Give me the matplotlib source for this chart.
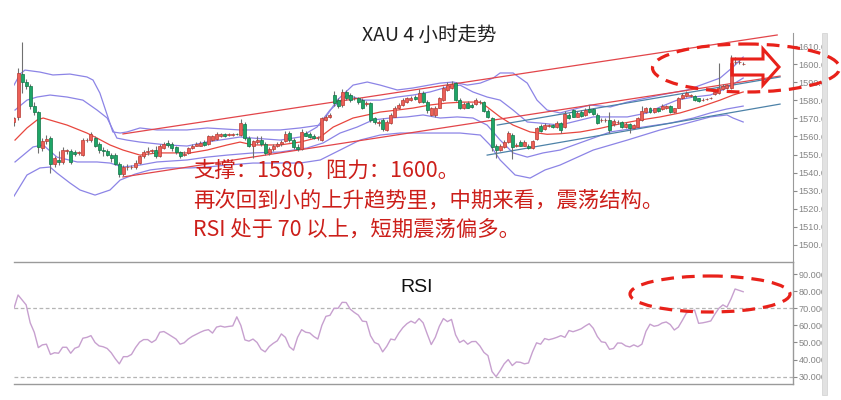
import matplotlib
matplotlib.use('Agg')
import matplotlib.pyplot as plt
from matplotlib.patches import Ellipse, Polygon, Rectangle
from matplotlib.ticker import FormatStrFormatter

plt.rcParams['font.family'] = ['Noto Sans CJK SC', 'DejaVu Sans']

# ---------------- data (XAU 4H candles) ----------------
opens = [1568, 1571, 1594.5, 1590, 1588, 1577, 1573.5, 1553.6, 1557.5, 1559,
         1545, 1547, 1546, 1552, 1552, 1551.5, 1551, 1550, 1558, 1558,
         1559, 1556, 1552.5, 1552, 1550, 1550, 1545, 1539, 1543, 1543,
         1543, 1545.5, 1549, 1551.5, 1552, 1552.5, 1549, 1553.5, 1556.5, 1556,
         1554, 1551.5, 1550, 1551, 1553.5, 1555, 1555, 1557, 1556, 1558,
         1558.5, 1560, 1561.5, 1561, 1561, 1561.5, 1561, 1567, 1559, 1555,
         1557, 1558, 1556, 1551, 1553, 1555, 1556, 1557.5, 1562, 1558,
         1554, 1553, 1562, 1561.5, 1560.5, 1559, 1558, 1569, 1571, 1583,
         1580, 1577.4, 1584.6, 1583, 1581, 1581, 1580, 1578, 1578.5, 1570,
         1567.5, 1569, 1563.5, 1567.5, 1571, 1575.5, 1577.5, 1579, 1580, 1582,
         1579, 1584, 1579, 1572, 1572, 1576, 1580, 1585.6, 1587, 1589.5,
         1580, 1575.7, 1578.5, 1577.5, 1578, 1579, 1579, 1574, 1570, 1555,
         1552.5, 1554, 1557, 1561, 1555, 1557, 1555, 1555, 1553.5, 1558.6,
         1566, 1564, 1566, 1566.5, 1565, 1567.6, 1565, 1572, 1574.6, 1571,
         1573.7, 1572, 1575, 1575, 1572, 1569, 1569, 1569, 1567, 1568,
         1568, 1565, 1567, 1564.6, 1565.4, 1569, 1573.5, 1575.7, 1573.5, 1575.5,
         1575, 1575.5, 1577, 1573.5, 1575.7, 1581, 1582.4, 1582.5, 1582.4, 1581,
         1580, 1580.5, 1581, 1583.5, 1584, 1586, 1587, 1587, 1601, 1601,
         1600]
closes = [1570, 1595, 1590, 1588, 1577, 1573.5, 1554, 1557.5, 1558.5, 1545,
          1548, 1546, 1552.5, 1552.3, 1546, 1550.5, 1551.2, 1558, 1558.3, 1561.5,
          1555, 1552.5, 1552, 1550, 1548, 1545, 1539, 1543, 1543.3, 1543.2,
          1545.5, 1549, 1551.5, 1551.7, 1552.2, 1549, 1555, 1556, 1555.5, 1553.5,
          1551.5, 1549, 1550.2, 1553.5, 1555, 1556, 1556.5, 1555.5, 1560, 1560,
          1561.5, 1561.5, 1560, 1561.2, 1561.2, 1561.3, 1567.5, 1559, 1555, 1557.5,
          1558, 1556, 1551, 1553, 1555, 1556, 1557, 1561.5, 1558, 1554,
          1553, 1562.5, 1560.5, 1559.5, 1559, 1559.2, 1570, 1571, 1572, 1578.5,
          1577, 1584.6, 1581, 1580, 1581.2, 1579, 1576, 1578.2, 1569, 1568,
          1567.7, 1564, 1568, 1572, 1576, 1577.5, 1580, 1581, 1581.5, 1580.5,
          1584, 1579, 1574.6, 1575.5, 1576, 1581, 1587, 1588.5, 1589, 1580,
          1575.7, 1578, 1576, 1576.5, 1580, 1579.2, 1574, 1571, 1554, 1552.5,
          1555, 1557, 1562, 1554, 1555.2, 1555, 1557, 1553.5, 1557.5, 1564.6,
          1563, 1566.6, 1566.2, 1565, 1567.6, 1563.5, 1572.5, 1570, 1571, 1573,
          1571.5, 1574.6, 1573.5, 1572.5, 1567.4, 1569.2, 1569.2, 1563.6, 1568.6, 1568.2,
          1565, 1567, 1564.6, 1566.5, 1570, 1574, 1575.7, 1573.5, 1575.5, 1574,
          1577, 1577, 1573.5, 1575.5, 1581.3, 1583, 1584, 1582.7, 1580, 1579.5,
          1580.2, 1580.7, 1581.2, 1584.5, 1587, 1588, 1588.4, 1600.6, 1601.3, 1601.2,
          1600.2]
highs = [1571, 1598, 1612, 1592, 1589, 1579, 1574, 1559, 1561, 1560,
         1549, 1552, 1554, 1553, 1553, 1552.5, 1552, 1559, 1559, 1562.5,
         1560, 1557, 1554, 1553, 1551, 1551, 1546, 1544, 1545, 1544.5,
         1547, 1550, 1552.5, 1554, 1553, 1555, 1556, 1557, 1558, 1557,
         1555, 1552, 1552, 1554, 1556, 1557, 1557.5, 1558, 1561, 1561,
         1562.5, 1562, 1562, 1562, 1562, 1562, 1569.5, 1568, 1560, 1558,
         1560, 1560, 1557, 1554, 1556, 1557, 1558, 1563, 1563, 1559,
         1556, 1564, 1563, 1562.5, 1561.5, 1560, 1571, 1572, 1573, 1585,
         1581, 1586, 1585.5, 1584, 1582.5, 1582, 1581, 1579.5, 1579, 1571,
         1569, 1570, 1569, 1573, 1577, 1578.5, 1581, 1582, 1582.5, 1583,
         1586, 1585, 1580, 1576.5, 1577, 1582, 1588, 1590, 1590.5, 1590,
         1581, 1579, 1579.5, 1578.5, 1581, 1580, 1579.5, 1575, 1571, 1556,
         1556, 1558, 1563, 1562, 1556.5, 1558, 1558, 1556, 1558, 1565.5,
         1567, 1567.5, 1567, 1567, 1568.5, 1568, 1574, 1573, 1575, 1574,
         1574.5, 1575.5, 1577.5, 1575.5, 1573, 1570, 1570, 1573.5, 1569.5, 1569,
         1568.5, 1568, 1567.5, 1567, 1571, 1577, 1576.5, 1576.5, 1576, 1576,
         1578, 1577.5, 1577.5, 1576, 1582, 1584, 1585, 1583.5, 1583, 1581.5,
         1581, 1581.5, 1582, 1585.5, 1600.6, 1589, 1589, 1605, 1604, 1602,
         1601]
lows = [1566, 1569, 1584, 1586, 1575, 1572, 1551, 1552, 1556, 1540,
        1543, 1544, 1545, 1550.5, 1545, 1549, 1550, 1549, 1557, 1557,
        1554, 1551, 1549, 1549, 1546, 1544, 1537.5, 1538, 1541.5, 1542,
        1542, 1545, 1548, 1550, 1551, 1548, 1548.5, 1553, 1554, 1552,
        1550.5, 1548, 1549, 1550.5, 1553, 1554.5, 1554.5, 1555, 1555.5, 1557.5,
        1558, 1559.5, 1559.5, 1560.5, 1560.5, 1561, 1560.5, 1558, 1554, 1548,
        1556, 1555, 1550, 1550, 1552, 1554, 1555, 1557, 1557, 1553,
        1552, 1552.5, 1560, 1559, 1558.5, 1558, 1557.5, 1568.5, 1570, 1577,
        1576, 1576.5, 1580, 1579, 1580, 1578, 1575, 1577, 1568, 1567,
        1566, 1563, 1563, 1567, 1570.5, 1575, 1577, 1578.5, 1579.5, 1580,
        1578.5, 1578.5, 1573, 1571.5, 1571, 1575.5, 1579.5, 1585, 1586.5, 1579.5,
        1575, 1575, 1575.5, 1576, 1577.5, 1578, 1573.5, 1570, 1552, 1548,
        1552, 1553.5, 1556.5, 1547.5, 1554, 1554.5, 1554.5, 1553, 1553, 1558,
        1562.5, 1563.5, 1565, 1564.5, 1564.5, 1562, 1564.5, 1569.5, 1570.5, 1570.5,
        1571, 1571.5, 1573, 1572, 1567, 1568, 1568, 1562, 1566, 1567,
        1564.5, 1564.5, 1562, 1564, 1565, 1568.5, 1573, 1573, 1573, 1573.5,
        1574.5, 1575, 1573, 1573, 1575.5, 1580.5, 1582, 1582, 1579.5, 1579,
        1579.5, 1580, 1580.5, 1583, 1583.5, 1585.5, 1586.5, 1586.5, 1600, 1600,
        1599.5]

# RSI(14) per candle
rsi = [70, 77.8, 74.9, 72, 61.5, 56, 47, 48.6, 49, 43,
       44, 43.7, 47.2, 47.2, 43.7, 46.6, 47.5, 52.5, 53, 54,
       50, 48, 47.5, 46.5, 44, 40.5, 37.5, 41.7, 41.7, 43,
       47, 50.2, 51.7, 51.7, 50, 51.5, 56, 56.4, 55, 53.5,
       52, 49, 49.8, 52, 53.6, 54.8, 56, 57, 57.5, 55.5,
       59, 59.6, 59, 59.4, 59.7, 65, 60, 51.5, 50.8, 52,
       50, 46, 44.5, 47.6, 49.5, 51, 55, 53, 47.5, 45.5,
       53, 57.5, 56, 55.6, 53.5, 52, 60, 65.3, 65.9, 70,
       70, 73.5, 73.4, 69.5, 67.6, 66, 62.5, 62.2, 54, 50,
       49, 44.5, 47.7, 52, 51.5, 55.5, 58.7, 61, 62.5, 61.3,
       64, 61.5, 55, 48.8, 53, 59.5, 64, 62.2, 63.5, 54.5,
       50, 51.3, 49, 50.5, 50.6, 48, 44.2, 42.3, 33, 30,
       33.5, 37.5, 40, 36.5, 38.6, 38.4, 37.5, 38, 44.5, 49.8,
       49, 52.3, 51.6, 52.2, 53, 54, 53, 57, 56.3, 57.1,
       58, 59.6, 61, 58.3, 53.5, 50.4, 50, 46, 46.5, 49.7,
       49.6, 48, 47.4, 48.6, 47.5, 49, 56.5, 60.7, 59.5, 60,
       61.4, 62, 60.5, 57.3, 59, 63, 67.3, 68, 69, 61.2,
       61.5, 62, 62.6, 66.5, 70, 72, 70.7, 75.5, 81.3, 80.5,
       79.7]

# Bollinger bands (20, 1 and 2 std) and middle MA, read as (candle index, price)
bb2u_i = [0, 1.5, 2.7, 6.4, 9.6, 13.8, 18, 19.5, 21.2, 23, 24.4, 26.2, 27.9, 31.1, 35.3,
          42.7, 47.7, 55.8, 65.7, 70.6, 75.6, 79.8, 83.7, 87.2, 90.4, 94.6, 98.5, 105.2,
          108.4, 111.9, 115.1, 118.3, 120, 123.2, 126.7, 129.1, 131.6, 134.8, 142.2, 147.2,
          151.4, 159.5, 166.2, 174.3, 177.5, 180]
bb2u_p = [1588.4, 1594.5, 1596.7, 1595.6, 1594, 1594.5, 1592.9, 1591.2, 1584, 1571.9,
          1562.5, 1561.9, 1562.5, 1564.7, 1563.6, 1563.6, 1564.7, 1563.6, 1563.6, 1564.7,
          1566.3, 1580.1, 1588.4, 1590.1, 1588.4, 1585.7, 1586.8, 1589.5, 1590.1, 1588.4,
          1589.5, 1592.3, 1595.1, 1595.1, 1589.5, 1580.1, 1574.6, 1573, 1577.4, 1576.3,
          1579, 1582.9, 1585.7, 1592.3, 1598.4, 1603.9]
bb1u_i = [0.25, 3.2, 5.7, 8.9, 13.1, 17, 20.5, 23, 25.4, 27.9, 31.1, 37.8, 42.7, 47.7,
          52.6, 55.8, 59, 65.7, 70.6, 74.8, 78, 82.2, 86.2, 90.4, 94.6, 98.5, 102.7,
          106.9, 110.1, 113.3, 116.8, 120, 123.2, 126.7, 129.9, 134.8, 143, 151.4,
          156.3, 159.5, 163.7, 167.7, 171.9, 176, 180]
bb1u_p = [1574.6, 1580.1, 1581.8, 1582.9, 1581.8, 1580.1, 1574.6, 1570.2, 1559.1, 1558,
          1556.9, 1555.3, 1554.7, 1557, 1558.6, 1559.7, 1559.1, 1558, 1559.7, 1565.2,
          1574.6, 1582.9, 1580.1, 1580.1, 1581.8, 1582.9, 1584.6, 1587.3, 1588.4, 1584.6,
          1581.8, 1580.1, 1574.6, 1568, 1567.4, 1566.3, 1570.8, 1570.8, 1573, 1576.3,
          1580.1, 1581.8, 1582.9, 1586.8, 1592.3]
ma_i = [0.25, 3.2, 5.7, 7.2, 13.1, 18, 20.5, 23.7, 26.9, 31.1, 35.3, 43.5, 47.7, 52.6,
        55.8, 59, 65.7, 70.6, 75.6, 78.8, 83.7, 87.2, 90.4, 94.6, 98.5, 102.7, 106.9,
        110.9, 115.1, 116.8, 120, 123.2, 127.4, 131.6, 134.8, 139.8, 144.7, 149.6, 154.6,
        159.5, 164.4, 169.4, 174.3, 177.5, 180]
ma_p = [1558, 1564.7, 1569.1, 1570.2, 1566.3, 1561.9, 1559.1, 1555.3, 1552.5, 1549.7,
        1550.9, 1550.9, 1552.5, 1555.3, 1556.9, 1555.3, 1555.3, 1556.9, 1559.7, 1565.2,
        1570.2, 1571.9, 1573.5, 1574.6, 1575.7, 1577.4, 1578.5, 1579, 1579, 1576.3,
        1570.8, 1566.3, 1562.5, 1561.2, 1561.5, 1562.5, 1564.5, 1567, 1569.1, 1570.8,
        1573, 1576.3, 1580.1, 1582.9, 1584.6]
bb1l_i = [0.25, 4.7, 7.2, 10.6, 15.6, 20.5, 23.7, 26.9, 31.1, 35.3, 42.7, 47.7, 52.6, 59,
          65.7, 72.3, 76.3, 80.5, 84.7, 88.6, 92.8, 97, 101, 105.2, 109.4, 113.3, 116.8,
          120, 123.2, 126.7, 130.6, 134.8, 143, 147.2, 155.3, 162, 167.7, 171.9, 176, 180]
bb1l_p = [1545.9, 1554.2, 1555.3, 1548.6, 1545.9, 1545.9, 1545.3, 1543.1, 1544.2, 1545.9,
          1547, 1548.6, 1549.7, 1550.9, 1551.4, 1553.6, 1556.4, 1561.9, 1565.2, 1569.1,
          1570.2, 1570.8, 1571.9, 1570.2, 1570.8, 1570.2, 1566.3, 1558, 1550.9, 1548.6,
          1550.9, 1552.5, 1559.1, 1562.5, 1565.2, 1567.4, 1570.2, 1573, 1575.2, 1576.8]
bb2l_i = [0, 3.2, 6.4, 8.9, 10.6, 13.8, 16.3, 20, 23.7, 26.2, 29.9, 33.6, 37.8, 43.5,
          47.7, 52.6, 59, 65.7, 70.6, 75.6, 80.5, 85.4, 90.4, 95.3, 102.7, 110.1, 115.1,
          117.5, 120, 123.7, 127.4, 131.1, 134.8, 143, 151.4, 159.5, 166.2, 171.9, 176,
          177.5, 180]
bb2l_p = [1527, 1538.7, 1542.6, 1543.1, 1539.8, 1534.3, 1530.4, 1527.6, 1530.4, 1535.9,
          1539.2, 1541.5, 1542.6, 1542.6, 1543.1, 1544.2, 1545.3, 1545.3, 1545.3, 1547,
          1552.5, 1558, 1560.8, 1561.9, 1561.9, 1561.9, 1560.8, 1555.3, 1547, 1538.7,
          1537, 1541.5, 1544.2, 1552.5, 1558, 1563.6, 1567.4, 1570.8, 1571.9, 1570.2, 1568]

# hand-drawn trend lines: (start index, start price, end index, end price)
chan_upper = [26.9, 1561.4, 188.4, 1616.1]
chan_lower = [26.9, 1537.6, 189.1, 1593.4]
blue_upper = [119.3, 1566.3, 189.1, 1592.9]
blue_lower = [116.8, 1549.7, 189.1, 1577.9]

price_ticks = list(range(1500, 1611, 10))
rsi_ticks = list(range(30, 91, 10))
rsi_levels = [70, 30]

title = 'XAU 4 小时走势'
notes = ['支撑：1580，阻力：1600。',
         '再次回到小的上升趋势里，中期来看，震荡结构。',
         'RSI 处于 70 以上，短期震荡偏多。']

# ---------------- figure ----------------
W, H = 841, 400
fig = plt.figure(figsize=(W / 100, H / 100), dpi=100)


def box(x0, y0, x1, y1):
    return [x0 / W, 1 - y1 / H, (x1 - x0) / W, (y1 - y0) / H]


ax = fig.add_axes(box(14, 33, 793, 262))
ax2 = fig.add_axes(box(14, 262, 793, 384))

UP_FACE, UP_EDGE = '#ec5f57', '#b83a33'
DN_FACE, DN_EDGE = '#1ea567', '#0f7445'
PURPLE = '#8c84e6'
TREND_RED = '#e2454a'
BLUE = '#4d82a8'

# bands and lines
for xs, ys in [(bb2u_i, bb2u_p), (bb1u_i, bb1u_p), (bb1l_i, bb1l_p), (bb2l_i, bb2l_p)]:
    ax.plot(xs, ys, color=PURPLE, lw=0.9, zorder=2)
ax.plot(ma_i, ma_p, color='#e8463e', lw=0.9, zorder=2)
for ln, col in [(chan_upper, TREND_RED), (chan_lower, TREND_RED),
                (blue_upper, BLUE), (blue_lower, BLUE)]:
    ax.plot([ln[0], ln[2]], [ln[1], ln[3]], color=col, lw=0.9, zorder=2)

# candles
for i, (o, h, l, c) in enumerate(zip(opens, highs, lows, closes)):
    up = c >= o
    ax.vlines(i, l, h, color='#707070', lw=0.8, zorder=3)
    lo_b, hi_b = min(o, c), max(o, c)
    hgt = max(hi_b - lo_b, 0.25)
    ax.bar(i, hgt, bottom=lo_b, width=0.74,
           color=UP_FACE if up else DN_FACE,
           edgecolor=UP_EDGE if up else DN_EDGE, lw=0.5, zorder=4)

ax.set_xlim(0, 192.3)
ax.set_ylim(1490.6, 1617.2)
ax.set_yticks(price_ticks)
ax.yaxis.set_major_formatter(FormatStrFormatter('%.2f'))
ax.set_xticks([])
for s in ['top', 'left', 'bottom']:
    ax.spines[s].set_visible(False)
ax.spines['right'].set_color('#9a9a9a')

# RSI panel
ax2.plot(range(len(rsi)), rsi, color='#c7a0cf', lw=1.0, zorder=3)
for lv in rsi_levels:
    ax2.axhline(lv, color='#b5b5b5', lw=0.9, ls=(0, (3, 2)), zorder=1)
ax2.set_xlim(0, 192.3)
ax2.set_ylim(25.7, 97.1)
ax2.set_yticks(rsi_ticks)
ax2.yaxis.set_major_formatter(FormatStrFormatter('%.4f'))
ax2.set_xticks([])
ax2.spines['left'].set_visible(False)
for s in ['top', 'bottom', 'right']:
    ax2.spines[s].set_color('#9a9a9a')
    ax2.spines[s].set_linewidth(1.0)

for a in (ax, ax2):
    a.yaxis.tick_right()
    a.tick_params(axis='y', labelsize=6.6, colors='#8a8a8a', length=3, pad=1.2,
                  labelcolor='#858585')
    for lab in a.get_yticklabels():
        lab.set_family(['Liberation Sans', 'DejaVu Sans'])

# ---------------- overlay decorations ----------------
ov = fig.add_axes([0, 0, 1, 1])
ov.set_xlim(0, W)
ov.set_ylim(H, 0)
ov.axis('off')
ov.set_zorder(10)

ov.add_patch(Rectangle((822, 0), 19, H, fc='white', ec='none', zorder=1))
ov.add_patch(Rectangle((822, 33), 5, 362, fc='#e2e2e2', ec='#d0d0d0', lw=0.5, zorder=2))

RED = '#e8211a'
ov.add_patch(Ellipse((746, 68), 187, 48, fill=False, ec=RED, lw=2.3,
                     ls=(0, (4, 2.5)), zorder=5))
ov.add_patch(Ellipse((710, 294), 160, 36, fill=False, ec=RED, lw=2.3,
                     ls=(0, (4, 2.5)), zorder=5))
arrow = [(732, 59), (763, 59), (763, 49), (779, 67), (763, 85), (763, 75), (732, 75)]
ov.add_patch(Polygon(arrow, closed=True, fill=False, ec=RED, lw=2.2, zorder=6))

fig.text(429 / W, 1 - 35 / H, title, ha='center', va='center', fontsize=14,
         color='#222222')
fig.text(417 / W, 1 - 287 / H, 'RSI', ha='center', va='center', fontsize=14,
         color='#111111', family=['Liberation Sans', 'DejaVu Sans'])
for k, (t, yy) in enumerate(zip(notes, [171, 201, 230])):
    fig.text(193 / W, 1 - yy / H, t, ha='left', va='center', fontsize=15.4,
             color='#cc1f1a')

fig.savefig('out.png', dpi=100)
